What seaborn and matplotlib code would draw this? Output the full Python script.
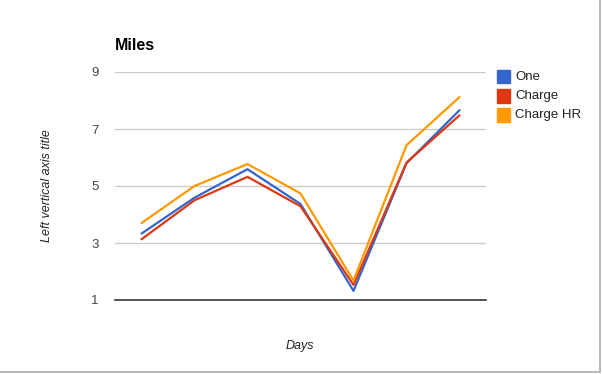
import numpy as np
import pandas as pd
import matplotlib
matplotlib.use("Agg")
import matplotlib.pyplot as plt
import seaborn as sns

# values
days = [0, 1, 2, 3, 4, 5, 6]
one = [3.33, 4.59, 5.59, 4.37, 1.32, 5.80, 7.66]
charge = [3.13, 4.50, 5.32, 4.29, 1.53, 5.82, 7.48]
charge_hr = [3.70, 5.00, 5.77, 4.74, 1.68, 6.43, 8.12]
series_names = ["One", "Charge", "Charge HR"]
y_ticks = [1, 3, 5, 7, 9]

colors = ["#3366cc", "#dc3912", "#ff9900"]

df = pd.DataFrame({
    "day": days * 3,
    "miles": one + charge + charge_hr,
    "series": [n for n in series_names for _ in days],
})

sns.set_style("white")
plt.rcParams["font.family"] = ["Liberation Sans", "DejaVu Sans"]

fig = plt.figure(figsize=(6.02, 3.74), dpi=100)
ax = fig.add_axes([115 / 602, 74 / 374, 371 / 602, 228 / 374])

sns.lineplot(data=df, x="day", y="miles", hue="series", palette=colors,
             hue_order=series_names, linewidth=1.6, ax=ax, legend=False)

ax.set_xlim(-0.5, 6.5)
ax.set_ylim(1, 9)
ax.set_yticks(y_ticks)
ax.set_yticklabels([str(t) for t in y_ticks], color="#444444", fontsize=9.5)
ax.set_xticks([])
ax.tick_params(axis="y", length=0, pad=12)
ax.grid(axis="y", color="#cccccc", linewidth=1)
ax.set_axisbelow(True)
for side in ["top", "right", "left"]:
    ax.spines[side].set_visible(False)
ax.spines["bottom"].set_color("#333333")
ax.spines["bottom"].set_linewidth(1.2)
ax.spines["bottom"].set_zorder(5)

ax.set_xlabel("")
ax.set_ylabel("")
fig.text(47 / 602, 1 - 186 / 374, "Left vertical axis title", rotation=90,
         ha="center", va="center", fontsize=9, style="italic", color="#222222")
fig.text(300 / 602, 1 - 346 / 374, "Days", ha="center", va="center",
         fontsize=9, style="italic", color="#222222")
fig.text(115 / 602, 1 - 45 / 374, "Miles", ha="left", va="center",
         fontsize=11.5, fontweight="bold", color="#000000")

# legend on the right
for i, (name, c) in enumerate(zip(series_names, colors)):
    yy = 1 - (77 + i * 19) / 374
    fig.patches.append(plt.Rectangle((497 / 602, yy - 6.5 / 374), 13 / 602, 13 / 374,
                                     transform=fig.transFigure, color=c, figure=fig))
    fig.text(515 / 602, yy, name, ha="left", va="center", fontsize=9.5, color="#222222")

# faint border at the right and bottom edge
fig.add_artist(plt.Line2D([600 / 602, 600 / 602], [2 / 374, 1], transform=fig.transFigure,
                          color="#aaaaaa", linewidth=1.2))
fig.add_artist(plt.Line2D([0, 600 / 602], [2 / 374, 2 / 374], transform=fig.transFigure,
                          color="#aaaaaa", linewidth=1.2))

fig.savefig("out.png", dpi=100)
